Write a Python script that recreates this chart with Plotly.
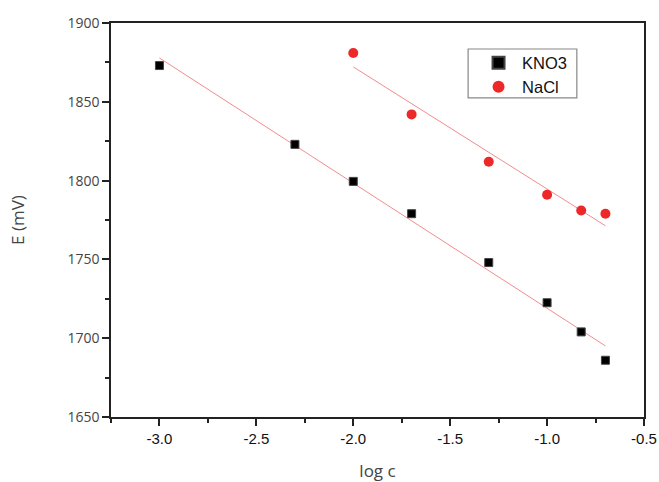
import numpy as np
import plotly.graph_objects as go

# Electrode potential vs. log concentration
kno3_logc = [-3.0, -2.301, -2.0, -1.699, -1.301, -1.0, -0.824, -0.699]
kno3_E = [1873, 1823, 1799.5, 1779, 1748, 1722.5, 1704, 1686]

nacl_logc = [-2.0, -1.699, -1.301, -1.0, -0.824, -0.699]
nacl_E = [1881, 1842, 1812, 1791, 1781, 1779]

x_ticks = [-3.0, -2.5, -2.0, -1.5, -1.0, -0.5]
y_ticks = [1650, 1700, 1750, 1800, 1850, 1900]

fit_color = "rgb(242,140,140)"


def linear_fit(x, y):
    slope, intercept = np.polyfit(x, y, 1)
    xs = np.array([min(x), max(x)])
    return xs, slope * xs + intercept


fig = go.Figure()

kx, ky = linear_fit(kno3_logc, kno3_E)
nx, ny = linear_fit(nacl_logc, nacl_E)

fig.add_trace(go.Scatter(x=kx, y=ky, mode="lines", showlegend=False,
                         line=dict(color=fit_color, width=1)))
fig.add_trace(go.Scatter(x=nx, y=ny, mode="lines", showlegend=False,
                         line=dict(color=fit_color, width=1)))

fig.add_trace(go.Scatter(
    x=kno3_logc, y=kno3_E, mode="markers", name="KNO3", legend="legend",
    marker=dict(symbol="square", size=8, color="black",
                line=dict(color="#444", width=1))))
fig.add_trace(go.Scatter(
    x=nacl_logc, y=nacl_E, mode="markers", name="NaCl", legend="legend2",
    marker=dict(symbol="circle", size=10, color="rgb(236,40,40)",
                line=dict(width=0))))

axis_common = dict(
    showgrid=False, zeroline=False, showline=True, mirror=True,
    linecolor="#222", linewidth=1.5, ticks="outside", tickcolor="#222",
    ticklen=7, tickwidth=1.5, automargin=False,
)

fig.update_xaxes(
    **axis_common,
    range=[-3.25, -0.5], tickvals=x_ticks,
    ticktext=["-3.0", "-2.5", "-2.0", "-1.5", "-1.0", "-0.5"],
    tickfont=dict(family="Liberation Sans, Arial", size=15, color="#111"),
    minor=dict(ticks="outside", ticklen=4, tickwidth=1.5, tickcolor="#222",
               dtick=0.25, tick0=-3.0),
    title=dict(text="log c", font=dict(family="Open Sans", size=17, color="#444"),
               standoff=20),
)
fig.update_yaxes(
    **axis_common,
    range=[1650, 1900], tickvals=y_ticks,
    tickfont=dict(family="Open Sans", size=14, color="#444"),
    minor=dict(ticks="outside", ticklen=4, tickwidth=1.5, tickcolor="#222",
               dtick=25, tick0=1650),
    title=dict(text="E (mV)", font=dict(family="Open Sans", size=17, color="#444"),
               standoff=38),
)

legend_style = dict(
    xanchor="left", yanchor="middle", borderwidth=0,
    bgcolor="rgba(0,0,0,0)", itemsizing="constant", itemwidth=37,
    font=dict(family="Liberation Sans, Arial", size=16.5, color="#111"),
)

fig.update_layout(
    width=659, height=482,
    margin=dict(l=111, r=15, t=23, b=65),
    plot_bgcolor="white", paper_bgcolor="white",
    legend=dict(x=0.683, y=0.8985, **legend_style),
    legend2=dict(x=0.683, y=0.8376, **legend_style),
    # frame around the two legend entries
    shapes=[dict(type="rect", xref="paper", yref="paper",
                 x0=0.670, x1=0.874, y0=0.810, y1=0.934,
                 line=dict(color="#888", width=1.2), layer="below")],
)

fig.write_html("out.html")
